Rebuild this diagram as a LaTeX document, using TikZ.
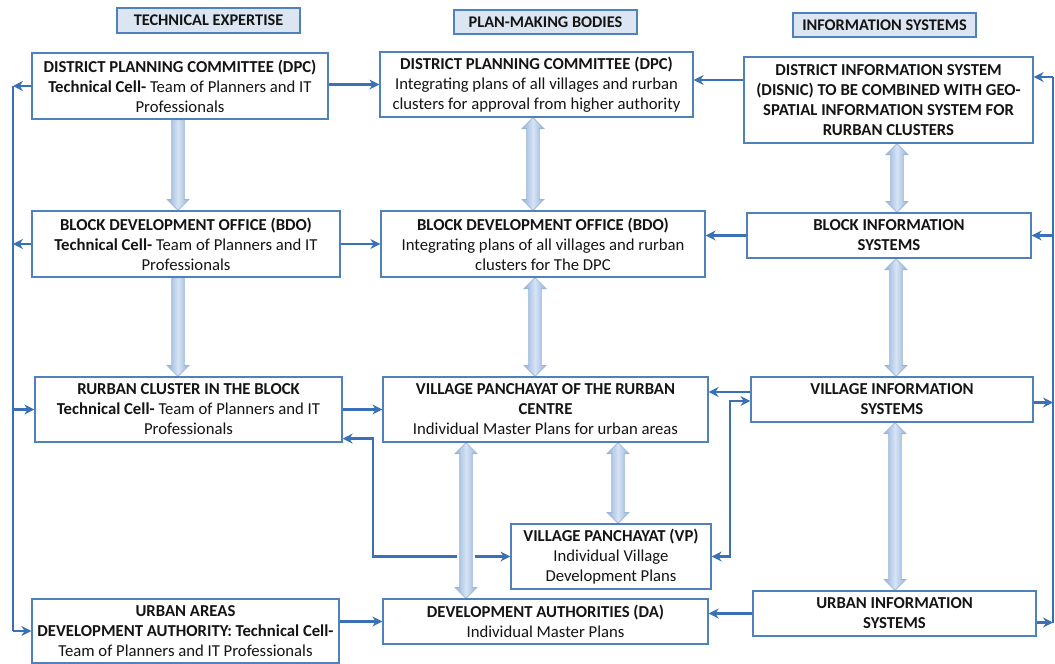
\documentclass[tikz,border=0pt]{standalone}
\usepackage{fontspec}
\setmainfont{Carlito}
\usetikzlibrary{arrows.meta,calc}
\pgfdeclarelayer{bg}
\pgfsetlayers{bg,main}
\definecolor{boxblue}{HTML}{4F81BD}
\definecolor{hdrfill}{HTML}{DCE6F2}
\definecolor{connblue}{HTML}{3A70B5}
\definecolor{bkedge}{HTML}{94B3DC}
\definecolor{bkmid}{HTML}{D6E3F3}
\definecolor{bkline}{HTML}{9CB6D8}
\definecolor{txt}{HTML}{141414}
\newcommand{\blockdbl}[3]{%
  \coordinate (bx) at (#1,0);
  \path[blockarrow] let \p1=(#2 -| bx), \p2=(#3 -| bx) in
    (\x1,\y1) -- ({\x1+11pt},{\y1-11pt}) -- ({\x1+6.3pt},{\y1-11pt}) --
    ({\x1+6.3pt},{\y2+11pt}) -- ({\x1+11pt},{\y2+11pt}) -- (\x1,\y2) --
    ({\x1-11pt},{\y2+11pt}) -- ({\x1-6.3pt},{\y2+11pt}) --
    ({\x1-6.3pt},{\y1-11pt}) -- ({\x1-11pt},{\y1-11pt}) -- cycle;
}
\newcommand{\blockdown}[3]{%
  \coordinate (bx) at (#1,0);
  \path[blockarrow] let \p1=(#2 -| bx), \p2=(#3 -| bx) in
    ({\x1-6.3pt},\y1) -- ({\x1+6.3pt},\y1) --
    ({\x1+6.3pt},{\y2+11pt}) -- ({\x1+11pt},{\y2+11pt}) -- (\x1,\y2) --
    ({\x1-11pt},{\y2+11pt}) -- ({\x1-6.3pt},{\y2+11pt}) -- cycle;
}
\tikzset{
  box/.style={draw=boxblue, line width=1.2pt, fill=white, align=center, inner sep=2pt,
    text=txt, font=\fontsize{16.7}{20}\selectfont},
  boxb/.style={box, font=\bfseries\fontsize{16.7}{20}\selectfont},
  hdr/.style={draw=boxblue, line width=1.2pt, fill=hdrfill, inner sep=2pt, text=txt,
    font=\bfseries\fontsize{16.3}{18}\selectfont},
  conn/.style={draw=connblue, line width=2.8pt, -{Stealth[length=10pt,width=10pt]}},
  conn2/.style={draw=connblue, line width=2.8pt, {Stealth[length=10pt,width=10pt]}-{Stealth[length=10pt,width=10pt]}},
  connline/.style={draw=connblue, line width=2.8pt},
  blockarrow/.style={draw=bkline, line width=0.8pt, left color=bkedge, right color=bkedge, middle color=bkmid},
}
\begin{document}
\begin{tikzpicture}[x=1pt,y=-1pt]
\useasboundingbox (0,0) rectangle (1055,664);
% headers
\node[hdr, minimum width=183pt, minimum height=25pt] (hTE) at (208.5,20.5) {TECHNICAL EXPERTISE};
\node[hdr, minimum width=183pt, minimum height=24pt] (hPM) at (545.5,22) {PLAN-MAKING BODIES};
\node[hdr, minimum width=183pt, minimum height=24pt] (hIS) at (884.5,25) {INFORMATION SYSTEMS};
% left column
\node[box, minimum width=296pt, minimum height=66pt] (tDPC) at (180,86)
  {\textbf{DISTRICT PLANNING COMMITTEE (DPC)}\\ \textbf{Technical Cell-} Team of Planners and IT\\ Professionals};
\node[box, minimum width=308pt, minimum height=66pt] (tBDO) at (186,244)
  {\textbf{BLOCK DEVELOPMENT OFFICE (BDO)}\\ \textbf{Technical Cell-} Team of Planners and IT\\ Professionals};
\node[box, minimum width=307pt, minimum height=65pt] (tRC) at (188.5,409.5)
  {\textbf{RURBAN CLUSTER IN THE BLOCK}\\ \textbf{Technical Cell-} Team of Planners and IT\\ Professionals};
\node[box, minimum width=307pt, minimum height=64pt] (tUA) at (185.5,631)
  {\textbf{URBAN AREAS}\\ \textbf{DEVELOPMENT AUTHORITY: Technical Cell-}\\ Team of Planners and IT Professionals};
% middle column
\node[box, minimum width=313pt, minimum height=65pt] (pDPC) at (536.5,84.5)
  {\textbf{DISTRICT PLANNING COMMITTEE (DPC)}\\ Integrating plans of all villages and rurban\\ clusters for approval from higher authority};
\node[box, minimum width=324pt, minimum height=66pt] (pBDO) at (543,244)
  {\textbf{BLOCK DEVELOPMENT OFFICE (BDO)}\\ Integrating plans of all villages and rurban\\ clusters for The DPC};
\node[box, minimum width=325pt, minimum height=65pt] (pVPR) at (545.5,409.5)
  {\textbf{VILLAGE PANCHAYAT OF THE RURBAN}\\ \textbf{CENTRE}\\ Individual Master Plans for urban areas};
\node[box, minimum width=200pt, minimum height=65pt] (pVP) at (611,556.5)
  {\textbf{VILLAGE PANCHAYAT (VP)}\\ Individual Village\\ Development Plans};
\node[box, minimum width=325pt, minimum height=45pt] (pDA) at (545.5,621.5)
  {\textbf{DEVELOPMENT AUTHORITIES (DA)}\\ Individual Master Plans};
% right column
\node[boxb, minimum width=289pt, minimum height=86pt] (iD) at (888.5,100)
  {DISTRICT INFORMATION SYSTEM\\ (DISNIC) TO BE COMBINED WITH GEO-\\ SPATIAL INFORMATION SYSTEM FOR\\ RURBAN CLUSTERS};
\node[boxb, minimum width=284pt, minimum height=45pt] (iB) at (889,235.5)
  {BLOCK INFORMATION\\ SYSTEMS};
\node[boxb, minimum width=282pt, minimum height=45pt] (iV) at (892,399.5)
  {VILLAGE INFORMATION\\ SYSTEMS};
\node[boxb, minimum width=283pt, minimum height=45pt] (iU) at (894.5,613.5)
  {URBAN INFORMATION\\ SYSTEMS};
% helper coordinates
\coordinate (busL) at (13,0);
\coordinate (busR) at (1053,0);
\coordinate (jL) at (373,0);
\coordinate (jR) at (730,0);
\coordinate (iDe) at ($(iD.east)+(0,-23)$);
\coordinate (iDw) at ($(iD.west)+(0,-20)$);
\coordinate (iVe) at ($(iV.east)+(0,3)$);
\coordinate (iVw) at ($(iV.west)+(0,-7.5)$);
\coordinate (iVw2) at ($(iV.west)+(0,1.5)$);
\coordinate (iUe) at ($(iU.east)+(0,9)$);
\coordinate (tRCe) at ($(tRC.south east)+(0,-4)$);
\begin{pgfonlayer}{bg}
% left bus
\draw[connline] (tDPC.west -| busL) -- (tUA.west -| busL);
\draw[conn] (tDPC.west) -- (tDPC.west -| busL);
\draw[conn] (tBDO.west) -- (tBDO.west -| busL);
\draw[conn] (tRC.west -| busL) -- (tRC.west);
\draw[conn] (tUA.west -| busL) -- (tUA.west);
% right bus
\draw[connline] (iDe -| busR) -- (iUe -| busR);
\draw[conn] (iDe -| busR) -- (iDe);
\draw[conn] (iB.east -| busR) -- (iB.east);
\draw[conn] (iVe) -- (iVe -| busR);
\draw[conn] (iUe) -- (iUe -| busR);
% left to middle
\draw[conn] (pDPC.west -| tDPC.east) -- (pDPC.west);
\draw[conn] (tBDO.east) -- (tBDO.east -| pBDO.west);
\draw[conn] (tRC.east) -- (tRC.east -| pVPR.west);
\draw[conn] (pDA.west -| tUA.east) -- (pDA.west);
% right to middle
\draw[conn] (iDw) -- (iDw -| pDPC.east);
\draw[conn] (iB.west) -- (iB.west -| pBDO.east);
\draw[conn] (iVw) -- (iVw -| pVPR.east);
\draw[conn] (iU.west) -- (iU.west -| pDA.east);
% elbow connectors
\draw[conn2] (tRCe) -- (tRCe -| jL) -- (jL |- pVP.west) -- (pVP.west);
\draw[conn2] (pVP.east) -- (pVP.east -| jR) -- (jR |- iVw2) -- (iVw2);
% block arrows
\blockdown{178}{tDPC.south}{tBDO.north}
\blockdown{178}{tBDO.south}{tRC.north}
\blockdbl{533}{pDPC.south}{pBDO.north}
\blockdbl{535}{pBDO.south}{pVPR.north}
\fill[white] (457,549) rectangle (475,564);
\blockdbl{466}{pVPR.south}{pDA.north}
\blockdbl{618}{pVPR.south}{pVP.north}
\blockdbl{897}{iD.south}{iB.north}
\blockdbl{896}{iB.south}{iV.north}
\blockdbl{895}{iV.south}{iU.north}
\end{pgfonlayer}
\end{tikzpicture}
\end{document}
